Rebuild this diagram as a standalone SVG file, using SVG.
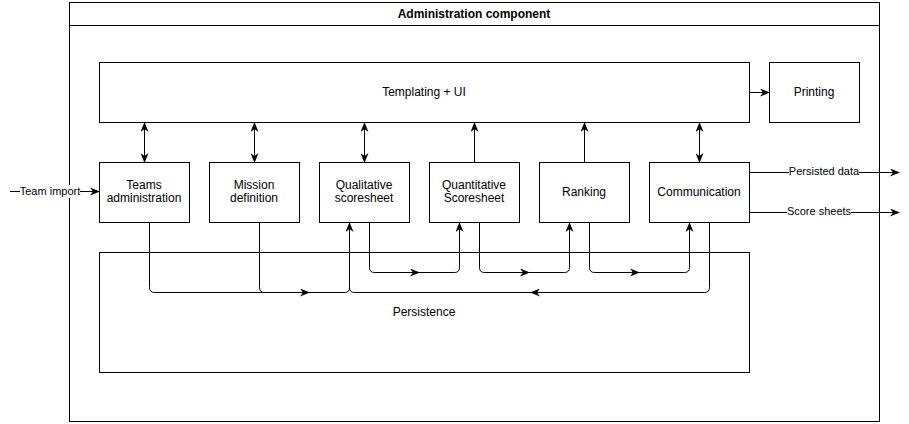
<svg xmlns="http://www.w3.org/2000/svg" width="909" height="424" viewBox="0 0 909 424">
<style>
.box{fill:#fff;stroke:#000;stroke-width:1}
.t{font-family:"Liberation Sans",Arial,Helvetica,sans-serif;font-size:12px;fill:#000;text-anchor:middle;dominant-baseline:central}
.b{font-weight:bold}
.lbl{font-family:"Liberation Sans",Arial,Helvetica,sans-serif;font-size:11px;fill:#000;text-anchor:middle;dominant-baseline:central}
.e{fill:none;stroke:#000;stroke-width:1}
.a{marker-end:url(#arr)}
.bi{marker-start:url(#arr);marker-end:url(#arr)}
</style>
<defs>
<marker id="arr" viewBox="0 0 10 8" refX="9" refY="4" markerWidth="10" markerHeight="8" markerUnits="userSpaceOnUse" orient="auto-start-reverse">
<path d="M0,0 L10,4 L0,8 L3,4 Z" fill="#000"/>
</marker>
</defs>
<g id="container">
<rect class="box" x="69.5" y="2.5" width="810" height="419"/>
<line class="e" x1="69.5" y1="25.5" x2="879.5" y2="25.5"/>
<text class="t b" x="474" y="14">Administration component</text>
</g>
<g id="templating"><rect class="box" x="99.5" y="62.5" width="650" height="60"/><text class="t" x="424" y="92">Templating + UI</text></g>
<g id="printing"><rect class="box" x="769.5" y="62.5" width="90" height="60"/><text class="t" x="814" y="92">Printing</text></g>
<g id="persistence"><rect class="box" x="99.5" y="252.5" width="650" height="120"/><text class="t" x="424" y="312">Persistence</text></g>
<g id="teams"><rect class="box" x="99.5" y="162.5" width="90" height="60"/><text class="t" x="144" y="185">Teams</text><text class="t" x="144" y="198">administration</text></g>
<g id="mission"><rect class="box" x="209.5" y="162.5" width="90" height="60"/><text class="t" x="254" y="185">Mission</text><text class="t" x="254" y="198">definition</text></g>
<g id="qualitative"><rect class="box" x="319.5" y="162.5" width="90" height="60"/><text class="t" x="364" y="185">Qualitative</text><text class="t" x="364" y="198">scoresheet</text></g>
<g id="quantitative"><rect class="box" x="429.5" y="162.5" width="90" height="60"/><text class="t" x="474" y="185">Quantitative</text><text class="t" x="474" y="198">Scoresheet</text></g>
<g id="ranking"><rect class="box" x="539.5" y="162.5" width="90" height="60"/><text class="t" x="584" y="192">Ranking</text></g>
<g id="communication"><rect class="box" x="649.5" y="162.5" width="100" height="60"/><text class="t" x="699" y="192">Communication</text></g>
<g id="connectors">
<path class="e bi" d="M144.5,123 V162"/>
<path class="e bi" d="M254.5,123 V162"/>
<path class="e bi" d="M364.5,123 V162"/>
<path class="e a" d="M474.5,162 V123"/>
<path class="e a" d="M584.5,162 V123"/>
<path class="e bi" d="M699.5,123 V162"/>
<path class="e a" d="M750,92.5 H769"/>
<path class="e" d="M149.5,223 V287.5 Q149.5,292.5 154.5,292.5 H344.5 Q349.5,292.5 349.5,287.5"/>
<path class="e" d="M259.5,223 V287.5 Q259.5,292.5 264.5,292.5 H344.5"/>
<path class="e a" d="M709.5,223 V287.5 Q709.5,292.5 704.5,292.5 H354.5 Q349.5,292.5 349.5,287.5 V223"/>
<path class="e a" d="M298,292.5 H309"/>
<path class="e a" d="M542,292.5 H531"/>
<path class="e a" d="M369.5,223 V267.5 Q369.5,272.5 374.5,272.5 H454.5 Q459.5,272.5 459.5,267.5 V223"/>
<path class="e a" d="M408,272.5 H419"/>
<path class="e a" d="M479.5,223 V267.5 Q479.5,272.5 484.5,272.5 H564.5 Q569.5,272.5 569.5,267.5 V223"/>
<path class="e a" d="M518,272.5 H529"/>
<path class="e a" d="M589.5,223 V267.5 Q589.5,272.5 594.5,272.5 H684.5 Q689.5,272.5 689.5,267.5 V223"/>
<path class="e a" d="M628,272.5 H639"/>
<path class="e a" d="M10,191.5 H99"/>
<rect x="20" y="185" width="60" height="13" fill="#fff"/>
<text class="lbl" x="50" y="191">Team import</text>
<path class="e a" d="M750,172.5 H899"/>
<rect x="789" y="166" width="70" height="13" fill="#fff"/>
<text class="lbl" x="824" y="171">Persisted data</text>
<path class="e a" d="M750,212.5 H899"/>
<rect x="787" y="206" width="64" height="13" fill="#fff"/>
<text class="lbl" x="819" y="211">Score sheets</text>
</g>
</svg>
